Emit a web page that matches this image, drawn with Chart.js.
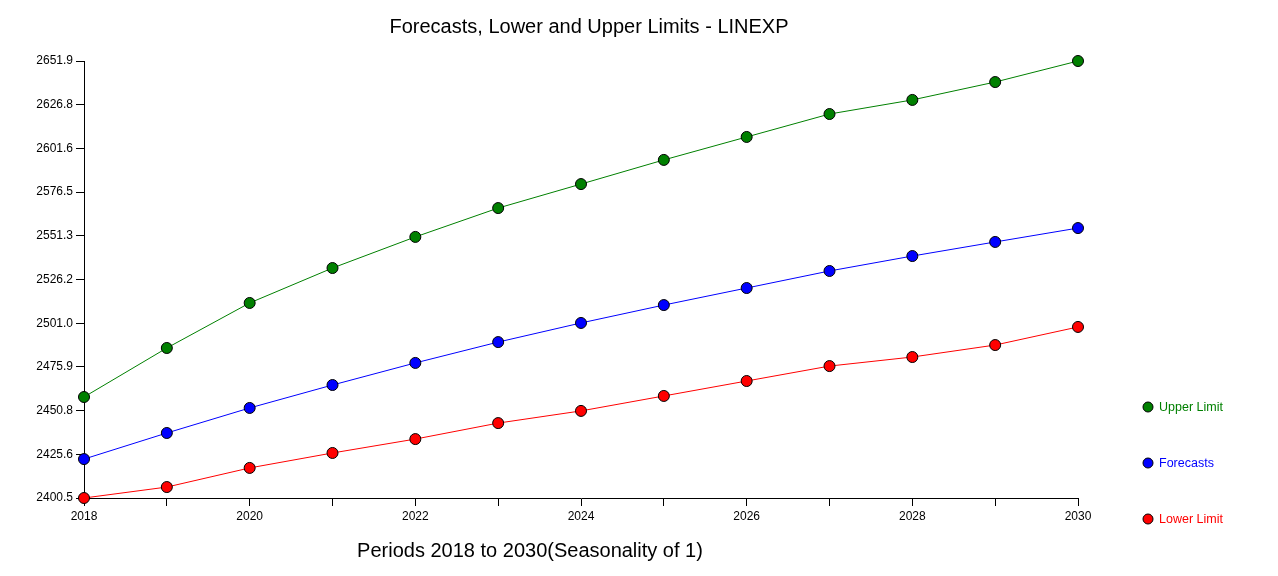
<!DOCTYPE html>
<html>
<head>
<meta charset="utf-8">
<script src="https://cdn.jsdelivr.net/npm/chart.js@4"></script>
<style>
html,body{margin:0;padding:0;background:#fff;}
#wrap{width:1278px;height:576px;position:relative;}
</style>
</head>
<body>
<div id="wrap"><canvas id="c" width="1278" height="576"></canvas></div>
<script>
const chartTitle = "Forecasts, Lower and Upper Limits - LINEXP";
const xTitle = "Periods 2018 to 2030(Seasonality of 1)";
const years = [2018,2019,2020,2021,2022,2023,2024,2025,2026,2027,2028,2029,2030];
const upperLimit = [2458.6,2486.8,2512.7,2532.8,2550.7,2567.3,2581.1,2595.0,2608.2,2621.4,2629.5,2639.8,2651.9];
const forecasts  = [2422.9,2437.9,2452.3,2465.5,2478.2,2490.2,2501.2,2511.5,2521.3,2531.1,2539.7,2547.8,2555.8];
const lowerLimit = [2400.5,2406.8,2417.8,2426.4,2434.4,2443.6,2450.6,2459.2,2467.8,2476.4,2481.6,2488.5,2498.9];
const yTickLabels = ["2400.5","2425.6","2450.8","2475.9","2501.0","2526.2","2551.3","2576.5","2601.6","2626.8","2651.9"];
const seriesNames = ["Upper Limit","Forecasts","Lower Limit"];
const seriesColors = ["#008000","#0000ff","#ff0000"];

const FONT = "'Liberation Sans', Arial, sans-serif";
const seriesData = [upperLimit, forecasts, lowerLimit];

const datasets = seriesNames.map((name, i) => ({
  label: name,
  data: years.map((y, k) => ({x: y, y: seriesData[i][k]})),
  borderColor: seriesColors[i],
  backgroundColor: seriesColors[i],
  pointBackgroundColor: seriesColors[i],
  pointBorderColor: "#000",
  pointBorderWidth: 1,
  pointRadius: 5.5,
  borderWidth: 1,
  tension: 0,
  clip: false
}));

const textPlugin = {
  id: "texts",
  afterDraw(chart) {
    const ctx = chart.ctx;
    ctx.save();
    ctx.fillStyle = "#000";
    ctx.font = "20px " + FONT;
    ctx.textAlign = "center";
    ctx.textBaseline = "middle";
    ctx.fillText(chartTitle, 589, 27);
    ctx.fillText(xTitle, 530, 551);
    // legend
    ctx.font = "12.5px " + FONT;
    ctx.textAlign = "left";
    seriesNames.forEach((name, i) => {
      const y = 407 + i * 56;
      ctx.beginPath();
      ctx.arc(1148, y, 5, 0, Math.PI * 2);
      ctx.fillStyle = seriesColors[i];
      ctx.fill();
      ctx.lineWidth = 1;
      ctx.strokeStyle = "#000";
      ctx.stroke();
      ctx.fillStyle = seriesColors[i];
      ctx.fillText(name, 1159, y + 1);
    });
    ctx.restore();
  }
};

new Chart(document.getElementById("c"), {
  type: "line",
  data: { datasets },
  options: {
    responsive: false,
    animation: false,
    devicePixelRatio: 1,
    layout: { padding: { top: 61, right: 200, left: 0, bottom: 0 } },
    plugins: { legend: { display: false }, tooltip: { enabled: false }, title: { display: false } },
    scales: {
      x: {
        type: "linear",
        min: 2018, max: 2030,
        afterFit(s) { s.height = 78; },
        ticks: {
          stepSize: 1,
          autoSkip: false,
          maxRotation: 0,
          color: "#000",
          font: { family: FONT, size: 12 },
          padding: 3,
          callback: v => (v % 2 === 0 ? String(v) : "")
        },
        grid: { drawOnChartArea: false, drawTicks: true, tickLength: 8, color: "#000", tickColor: "#000" },
        border: { display: true, color: "#000", width: 1 }
      },
      y: {
        min: 2400.5, max: 2651.9,
        afterFit(s) { s.width = 84; },
        afterBuildTicks(s) { s.ticks = yTickLabels.map(v => ({ value: parseFloat(v) })); },
        ticks: {
          color: "#000",
          font: { family: FONT, size: 12 },
          padding: 3,
          callback: (v, i) => yTickLabels[i]
        },
        grid: { drawOnChartArea: false, drawTicks: true, tickLength: 8, color: "#000", tickColor: "#000" },
        border: { display: true, color: "#000", width: 1 }
      }
    }
  },
  plugins: [textPlugin]
});
</script>
</body>
</html>
